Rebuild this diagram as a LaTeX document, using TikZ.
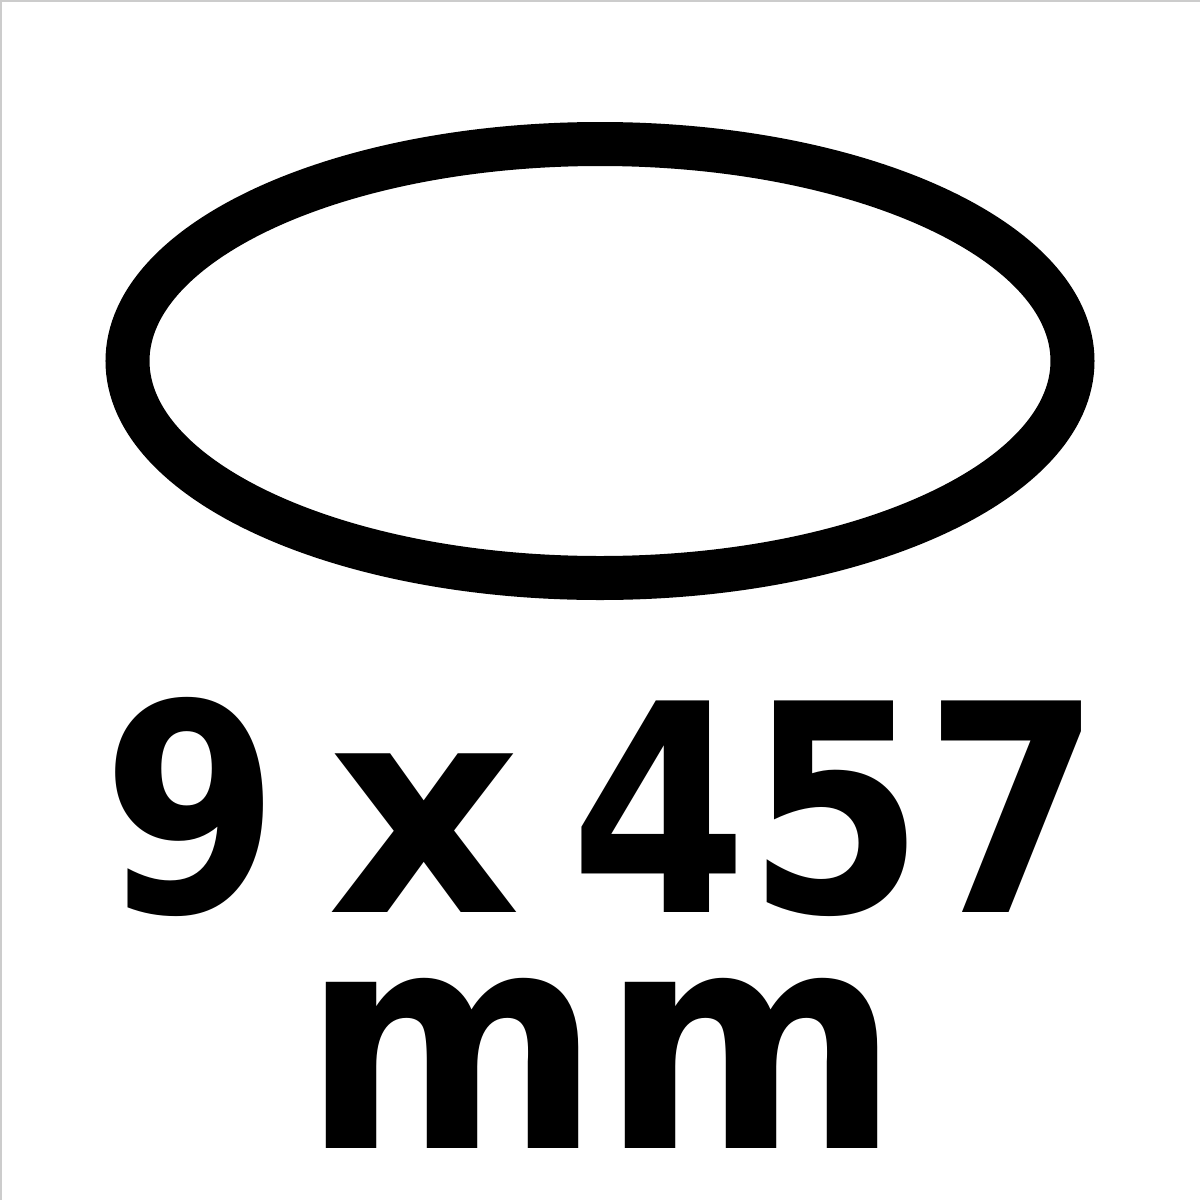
\documentclass[tikz,border=0pt]{standalone}
\usepackage{fontspec}
\setmainfont{DejaVu Sans}
\usepackage{graphicx}
\begin{document}
\begin{tikzpicture}[x=1pt,y=-1pt,
  ring/.style={draw=black,line width=44pt},
  bigtext/.style={inner sep=0pt,anchor=base,font=\bfseries}]
\useasboundingbox (0,0) rectangle (1200,1200);
\fill[white] (0,0) rectangle (1200,1200);
\draw[gray!40,line width=2pt] (1,1200) -- (1,1) -- (1200,1);
\draw[ring] (600,361) ellipse [x radius=472.5, y radius=217];
\node[bigtext] (dim) at (602,912) {\resizebox{998pt}{215pt}{9\hspace{0.19em}\scalebox{1.18}[1]{x}\hspace{0.19em}457}};
\node[bigtext] (unit) at (601,1148) {\resizebox{597pt}{170pt}{mm}};
\end{tikzpicture}
\end{document}
